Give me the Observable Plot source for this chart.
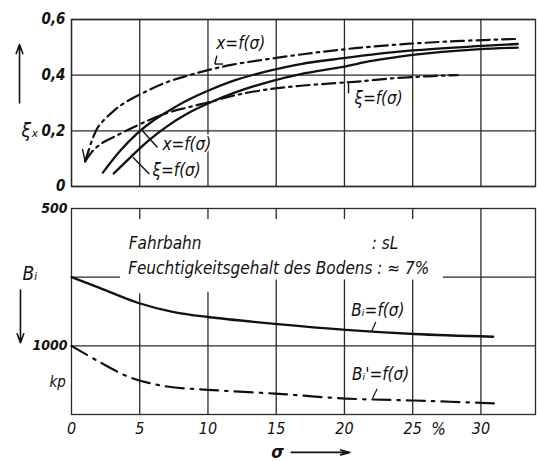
<!DOCTYPE html>
<html>
<head>
<meta charset="utf-8">
<script src="https://cdn.jsdelivr.net/npm/d3@7"></script>
<script src="https://cdn.jsdelivr.net/npm/@observablehq/plot@0.6"></script>
<style>
  html, body { margin: 0; padding: 0; background: #fff; }
  #chart { width: 537px; }
  #chart svg { display: block; }
</style>
</head>
<body>
<div id="chart"></div>
<script>
// ---------- data ----------
const sigmaTicks = [0, 5, 10, 15, 20, 25, 30];
const sigmaDomain = [0, 34];

// top panel (ξ, x vs σ)
const topYTicks = [0, 0.2, 0.4, 0.6];
const topYTickLabels = ["0", "0,2", "0,4", "0,6"];
const xDashDot = [[1.0,0.09],[1.5,0.165],[1.9,0.21],[2.4,0.24],[3.1,0.272],[3.8,0.298],[5.6,0.345],[7.0,0.375],[8.5,0.398],[10,0.418],[11.7,0.437],[15,0.462],[17.7,0.48],[20,0.493],[21.2,0.499],[24.8,0.513],[28.5,0.523],[32.5,0.53]];
const xiDashDot = [[1.0,0.09],[1.6,0.13],[2.3,0.158],[3.1,0.178],[4.0,0.20],[5.6,0.237],[7.0,0.264],[8.5,0.284],[10,0.302],[12,0.328],[14.4,0.349],[16.8,0.362],[19.5,0.372],[21.2,0.378],[23.6,0.389],[26.1,0.396],[28.3,0.40]];
const xSolid = [[2.3,0.05],[3.6,0.13],[4.8,0.19],[6.0,0.237],[7.3,0.277],[8.5,0.31],[10,0.344],[12,0.382],[14.6,0.417],[16.8,0.44],[19.9,0.461],[22,0.474],[25,0.489],[29.7,0.504],[32.7,0.512]];
const xiSolid = [[3.1,0.047],[4.3,0.104],[5.6,0.163],[7.0,0.216],[8.5,0.262],[10,0.298],[12,0.338],[14.6,0.378],[16.8,0.404],[19.9,0.43],[22,0.451],[25,0.473],[29.7,0.493],[32.7,0.499]];
const topLabels = [
  {s: 12.4, v: 0.514, t: "x=f(σ)"},
  {s: 8.45, v: 0.151, t: "x=f(σ)"},
  {s: 7.7, v: 0.058, t: "ξ=f(σ)"},
  {s: 22.5, v: 0.315, t: "ξ=f(σ)"}
];
const topLeaders = [
  {s1: 10.65, v1: 0.47, s2: 10.5, v2: 0.44},
  {s1: 10.5, v1: 0.44, s2: 11.1, v2: 0.44},
  {s1: 5.2, v1: 0.2, s2: 6.3, v2: 0.14},
  {s1: 4.5, v1: 0.105, s2: 5.7, v2: 0.045},
  {s1: 20.3, v1: 0.373, s2: 20.3, v2: 0.335},
  {s1: 0.8, v1: 0.135, s2: 1.0, v2: 0.09}
];
const topAxisTitle = "ξₓ";
const topAxisArrow = [{s1: -3.81, v1: 0.30, s2: -3.81, v2: 0.51}];

// bottom panel (B_i vs σ)
const botYTicks = [500, 1000];
const botYTickLabels = ["500", "1000"];
const botUnit = {t: "kp", v: 1134};
const biSolid = [[0,750],[2.1,790],[4.9,844],[7.5,877],[10,895],[14.9,920],[20.1,942],[25.1,957],[30.9,967]];
const biDashDot = [[0,1000],[2.1,1060],[4.3,1115],[7,1148],[10,1160],[14.9,1174],[20.1,1192],[25.1,1199],[31.4,1210]];
const botLabels = [
  {s: 22.45, v: 873, t: "Bᵢ=f(σ)"},
  {s: 22.65, v: 1105, t: "Bᵢ'=f(σ)"}
];
const botLeaders = [
  {s1: 22.3, v1: 913, s2: 22.0, v2: 946},
  {s1: 22.4, v1: 1156, s2: 22.05, v2: 1192}
];
const infoLines = [
  {s: 4.2, v: 627, t: "Fahrbahn"},
  {s: 22.0, v: 627, t: ": sL"},
  {s: 4.15, v: 717, t: "Feuchtigkeitsgehalt des Bodens : ≈ 7%"}
];
const botAxisTitle = {t: "Bᵢ", v: 739};
const botAxisArrow = [{s1: -3.74, v1: 797, s2: -3.74, v2: 989}];
const xUnit = {t: "%", s: 26.9, v: 1304};
const xTitle = {t: "σ", s: 15.1, v: 1388};
const xArrow = [{s1: 16.1, v1: 1388, s2: 20.4, v2: 1388}];
// partial grid in lower panel
const gridLowStart = [{s: 5, v: 810}, {s: 10, v: 805}, {s: 15, v: 760}, {s: 20, v: 760}, {s: 25, v: 760}, {s: 30, v: 500}];
const gridTopTicks = [5, 10, 15, 20, 25];
const grid750 = [{s1: 0, s2: 3.6, v: 750}, {s1: 27.25, s2: 34, v: 750}];

// ---------- style ----------
const ink = "#111";
const grid = "#2a2a2a";
const font = "'DejaVu Sans Condensed', 'DejaVu Sans', sans-serif";
const dashDot = "13,5,2.5,5";
const baseStyle = {fontFamily: font, fontStyle: "italic", fontStretch: "condensed", fontSize: "15px", color: ink, background: "#fff"};

const topLabelMap = new Map(topYTicks.map((d, i) => [d, topYTickLabels[i]]));
const botLabelMap = new Map(botYTicks.map((d, i) => [d, botYTickLabels[i]]));
const crv = "catmull-rom";

const topPlot = Plot.plot({
  width: 537, height: 200,
  marginLeft: 71, marginRight: 2, marginTop: 19, marginBottom: 14,
  x: {domain: sigmaDomain, axis: null},
  y: {domain: [0, 0.6], axis: null},
  style: baseStyle,
  marks: [
    Plot.ruleX(sigmaTicks, {stroke: grid, strokeWidth: 1.3}),
    Plot.ruleY(topYTicks, {stroke: grid, strokeWidth: 1.3}),
    Plot.frame({stroke: grid, strokeWidth: 1.3}),
    Plot.axisY({ticks: topYTicks, tickFormat: d => topLabelMap.get(d), tickSize: 0, tickPadding: 6, fontSize: 15, fontWeight: "bold"}),
    Plot.line(xDashDot, {x: d => d[0], y: d => d[1], curve: crv, stroke: ink, strokeWidth: 2.2, strokeDasharray: dashDot}),
    Plot.line(xiDashDot, {x: d => d[0], y: d => d[1], curve: crv, stroke: ink, strokeWidth: 2.2, strokeDasharray: dashDot}),
    Plot.line(xSolid, {x: d => d[0], y: d => d[1], curve: crv, stroke: ink, strokeWidth: 2.3}),
    Plot.line(xiSolid, {x: d => d[0], y: d => d[1], curve: crv, stroke: ink, strokeWidth: 2.3}),
    Plot.link(topLeaders, {x1: "s1", y1: "v1", x2: "s2", y2: "v2", stroke: ink, strokeWidth: 1.4}),
    Plot.text(topLabels, {x: "s", y: "v", text: "t", fontSize: 17, fill: ink, stroke: "#fff", strokeWidth: 3, paintOrder: "stroke"}),
    Plot.text([topAxisTitle], {frameAnchor: "left", y: [0.2], text: d => d, dx: -50, fontSize: 19, fill: ink}),
    Plot.arrow(topAxisArrow, {x1: "s1", y1: "v1", x2: "s2", y2: "v2", stroke: ink, strokeWidth: 1.6, headLength: 9, headAngle: 40})
  ]
});

const botPlot = Plot.plot({
  width: 537, height: 261,
  marginLeft: 71, marginRight: 2, marginTop: 8, marginBottom: 47,
  x: {domain: sigmaDomain, axis: null},
  y: {domain: [500, 1250], reverse: true, axis: null},
  style: baseStyle,
  marks: [
    Plot.frame({stroke: grid, strokeWidth: 1.3}),
    Plot.ruleY([1000], {stroke: grid, strokeWidth: 1.3}),
    Plot.ruleY(grid750, {y: "v", x1: "s1", x2: "s2", stroke: grid, strokeWidth: 1.3}),
    Plot.ruleX(gridLowStart, {x: "s", y1: "v", y2: () => 1250, stroke: grid, strokeWidth: 1.3}),
    Plot.ruleX(gridTopTicks, {y1: () => 500, y2: () => 540, stroke: grid, strokeWidth: 1.3}),
    Plot.axisY({ticks: botYTicks, tickFormat: d => botLabelMap.get(d), tickSize: 0, tickPadding: 4, fontSize: 14, fontWeight: "bold"}),
    Plot.axisX({ticks: sigmaTicks, tickSize: 0, tickPadding: 8, fontSize: 16, tickFormat: d => String(d)}),
    Plot.line(biSolid, {x: d => d[0], y: d => d[1], curve: crv, stroke: ink, strokeWidth: 2.3}),
    Plot.line(biDashDot, {x: d => d[0], y: d => d[1], curve: crv, stroke: ink, strokeWidth: 2.2, strokeDasharray: "18,7,2.5,7"}),
    Plot.link(botLeaders, {x1: "s1", y1: "v1", x2: "s2", y2: "v2", stroke: ink, strokeWidth: 1.2}),
    Plot.text(botLabels, {x: "s", y: "v", text: "t", fontSize: 17, fill: ink}),
    Plot.text(infoLines, {x: "s", y: "v", text: "t", textAnchor: "start", fontSize: 17, fill: ink}),
    Plot.text([botUnit], {frameAnchor: "left", y: "v", text: "t", dx: -22, fontSize: 15, fill: ink}),
    Plot.text([botAxisTitle], {frameAnchor: "left", y: "v", text: "t", dx: -49, fontSize: 19, fill: ink}),
    Plot.arrow(botAxisArrow, {x1: "s1", y1: "v1", x2: "s2", y2: "v2", stroke: ink, strokeWidth: 1.6, headLength: 9, headAngle: 40}),
    Plot.text([xUnit], {x: "s", y: "v", text: "t", fontSize: 17, fill: ink}),
    Plot.text([xTitle], {x: "s", y: "v", text: "t", fontSize: 18, fontWeight: "bold", fill: ink}),
    Plot.arrow(xArrow, {x1: "s1", y1: "v1", x2: "s2", y2: "v2", stroke: ink, strokeWidth: 1.6, headLength: 9, headAngle: 30})
  ]
});

const host = document.getElementById("chart");
host.append(topPlot, botPlot);
</script>
</body>
</html>
